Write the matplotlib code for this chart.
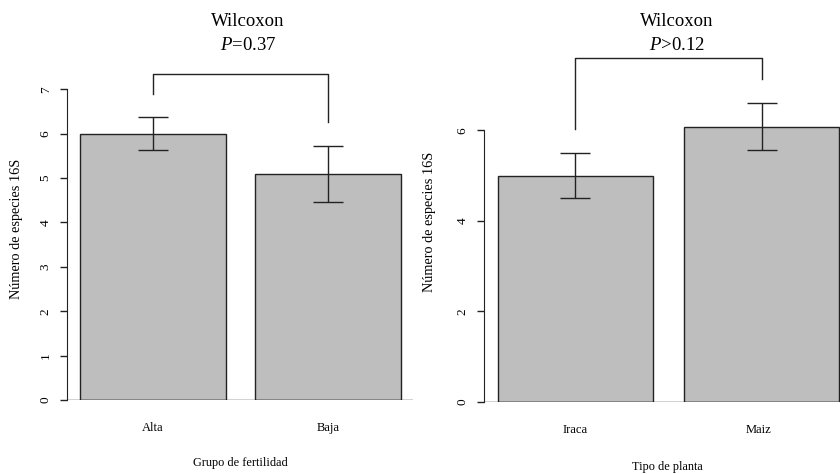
import matplotlib.pyplot as plt

plt.rcParams['font.family'] = ['Liberation Serif', 'DejaVu Serif']
plt.rcParams['mathtext.fontset'] = 'custom'
plt.rcParams['mathtext.rm'] = 'Liberation Serif'
plt.rcParams['mathtext.it'] = 'Liberation Serif:italic'

# data
fert_groups = ['Alta', 'Baja']
fert_mean = [6.0, 5.1]
fert_low = [5.63, 4.47]
fert_high = [6.37, 5.73]
fert_p = '$\\mathit{P}$=0.37'

plant_types = ['Iraca', 'Maiz']
plant_mean = [5.0, 6.08]
plant_low = [4.5, 5.57]
plant_high = [5.5, 6.6]
plant_p = '$\\mathit{P}$>0.12'

W, H = 840, 474
fig = plt.figure(figsize=(W / 100, H / 100), dpi=100)
LC = '#222222'


def px_axes(x0, x1, ybot, ytop):
    return fig.add_axes([x0 / W, 1 - ybot / H, (x1 - x0) / W, (ybot - ytop) / H])


def panel(ax, names, mean, low, high, ymax, xlim, bracket):
    centers = [0.7, 1.9]
    ax.bar(centers, mean, width=1.0, color='#bebebe', edgecolor=LC, linewidth=1.0, zorder=2)
    err = [[m - l for m, l in zip(mean, low)], [h - m for m, h in zip(mean, high)]]
    ax.errorbar(centers, mean, yerr=err, fmt='none', ecolor=LC, elinewidth=1.0,
                capsize=10.8, capthick=1.0, zorder=3)
    l1, top, l2 = bracket
    ax.plot([centers[0], centers[0], centers[1], centers[1]], [l1, top, top, l2],
            color=LC, lw=1.0, clip_on=False)
    ax.set_xlim(*xlim)
    ax.set_ylim(0, 8)
    for s in ['top', 'right', 'bottom']:
        ax.spines[s].set_visible(False)
    ax.spines['left'].set_bounds(0, ymax)
    ax.spines['left'].set_color(LC)
    ax.axhline(0, color=LC, lw=1.0, zorder=4)
    ax.set_xticks([])
    ax.tick_params(axis='y', length=5, width=1.0, color=LC, labelsize=9.5, pad=6)
    for lab in ax.get_yticklabels():
        lab.set_rotation(90)
        lab.set_va('center')


ax1 = px_axes(67, 413, 400, 400 - 8 * 44.4)
panel(ax1, fert_groups, fert_mean, fert_low, fert_high, 7, (0.111, 2.481), (6.89, 7.34, 6.26))
ax1.set_yticks(range(0, 8))

ax2 = px_axes(484, 840, 402, 402 - 8 * 45.3)
panel(ax2, plant_types, plant_mean, plant_low, plant_high, 6, (0.110, 2.406), (6.02, 7.59, 7.13))
ax2.set_yticks([0, 2, 4, 6])


def ftext(x, y, s, **kw):
    fig.text(x / W, 1 - y / H, s, ha='center', va='center', **kw)


# titles
ftext(248, 22, 'Wilcoxon', fontsize=13.5)
ftext(248, 46, fert_p, fontsize=13.5)
ftext(677, 22, 'Wilcoxon', fontsize=13.5)
ftext(677, 46, plant_p, fontsize=13.5)

# category labels
ftext(153, 428, fert_groups[0], fontsize=9)
ftext(328, 428, fert_groups[1], fontsize=9)
ftext(575, 430, plant_types[0], fontsize=9)
ftext(759, 430, plant_types[1], fontsize=9)

# axis titles
ftext(240, 463, 'Grupo de fertilidad', fontsize=8.8)
ftext(667, 467, 'Tipo de planta', fontsize=8.8)
ftext(17, 229, 'Número de especies 16S', fontsize=10.3, rotation=90)
ftext(430, 222, 'Número de especies 16S', fontsize=10.3, rotation=90)

fig.savefig('out.png', dpi=100)
